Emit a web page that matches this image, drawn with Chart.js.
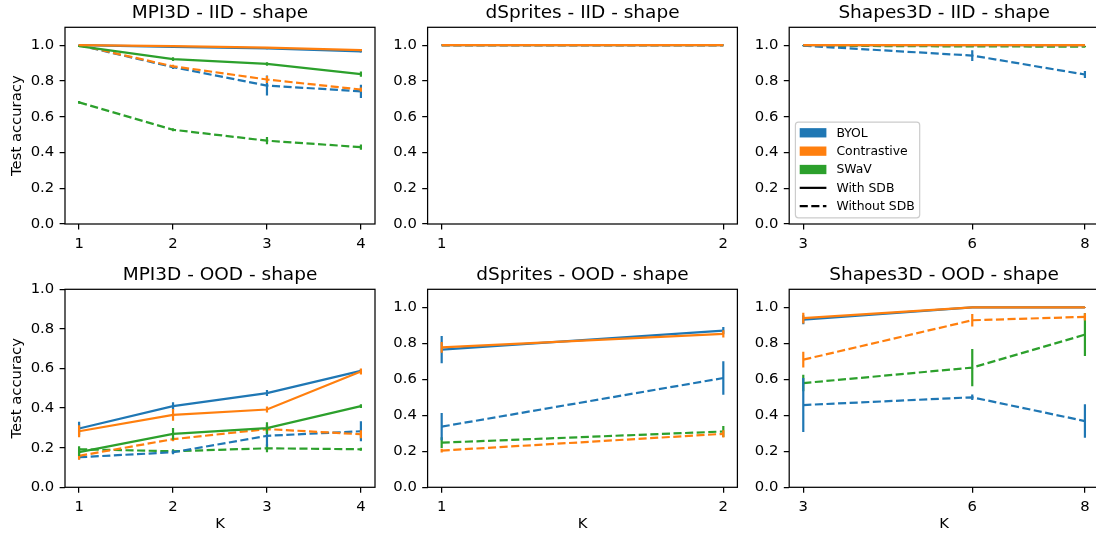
<!DOCTYPE html>
<html>
<head>
<meta charset="utf-8">
<script src="https://cdn.jsdelivr.net/npm/chart.js@4.4.0/dist/chart.umd.min.js"></script>
<style>
  html, body { margin: 0; padding: 0; background: #fff; overflow: hidden; }
  body { width: 1096px; height: 538px; position: relative; }
  canvas { position: absolute; }
</style>
</head>
<body>
<canvas id="c0"></canvas>
<canvas id="c1"></canvas>
<canvas id="c2"></canvas>
<canvas id="c3"></canvas>
<canvas id="c4"></canvas>
<canvas id="c5"></canvas>
<script>
const methods = ['BYOL', 'Contrastive', 'SWaV'];
const colors = ['#1f77b4', '#ff7f0e', '#2ca02c'];

const kMpi = [1, 2, 3, 4];
const kDsprites = [1, 2];
const kShapes = [3, 6, 8];
const yTicks = [0, 0.2, 0.4, 0.6, 0.8, 1.0];

// rows: BYOL, Contrastive, SWaV (null = not run)
const mpiIidWith = [[1.0, 0.99, 0.982, 0.965], [1.0, 0.995, 0.986, 0.972], [0.995, 0.922, 0.895, 0.838]];
const mpiIidWithErr = [[0.003, 0.004, 0.005, 0.006], [0.002, 0.003, 0.004, 0.006], [0.005, 0.01, 0.01, 0.015]];
const mpiIidWithout = [[1.0, 0.877, 0.774, 0.742], [1.0, 0.882, 0.808, 0.752], [0.68, 0.527, 0.466, 0.43]];
const mpiIidWithoutErr = [[0.003, 0.01, 0.056, 0.037], [0.003, 0.008, 0.02, 0.012], [0.008, 0.008, 0.02, 0.015]];

const dspIidWith = [[1.0, 1.0], [1.0, 1.0], null];
const dspIidWithErr = [[0, 0], [0, 0], null];
const dspIidWithout = [[1.0, 1.0], [1.0, 1.0], [1.0, 1.0]];
const dspIidWithoutErr = [[0, 0], [0, 0], [0, 0]];

const shpIidWith = [[1.0, 1.0, 1.0], [1.0, 1.0, 1.0], null];
const shpIidWithErr = [[0, 0, 0], [0, 0, 0], null];
const shpIidWithout = [[0.997, 0.942, 0.836], [1.0, 1.0, 0.999], [0.997, 0.993, 0.992]];
const shpIidWithoutErr = [[0.003, 0.03, 0.02], [0, 0, 0.001], [0.002, 0.003, 0.003]];

const mpiOodWith = [[0.297, 0.41, 0.476, 0.588], [0.283, 0.366, 0.393, 0.585], [0.178, 0.27, 0.299, 0.41]];
const mpiOodWithErr = [[0.034, 0.02, 0.015, 0.01], [0.03, 0.03, 0.015, 0.015], [0.02, 0.03, 0.03, 0.01]];
const mpiOodWithout = [[0.152, 0.177, 0.26, 0.283], [0.159, 0.243, 0.294, 0.268], [0.192, 0.182, 0.197, 0.192]];
const mpiOodWithoutErr = [[0.01, 0.01, 0.055, 0.05], [0.02, 0.01, 0.015, 0.02], [0.015, 0.01, 0.02, 0.008]];

const dspOodWith = [[0.765, 0.87], [0.777, 0.852], null];
const dspOodWithErr = [[0.076, 0.02], [0.03, 0.02], null];
const dspOodWithout = [[0.337, 0.607], [0.204, 0.297], [0.248, 0.31]];
const dspOodWithoutErr = [[0.076, 0.093], [0.01, 0.02], [0.03, 0.03]];

const shpOodWith = [[0.931, 1.0, 1.0], [0.94, 1.0, 1.0], null];
const shpOodWithErr = [[0.025, 0.002, 0.002], [0.03, 0.002, 0.002], null];
const shpOodWithout = [[0.457, 0.5, 0.368], [0.709, 0.928, 0.947], [0.579, 0.665, 0.848]];
const shpOodWithoutErr = [[0.15, 0.015, 0.093], [0.044, 0.035, 0.02], [0.046, 0.104, 0.119]];

const FONT = 'DejaVu Sans';
const LW = 2.2;
const DASH = [8.1, 3.5];

const cols = [
  { cx: 0, cw: 380, areaL: 65, areaW: 310 },
  { cx: 365, cw: 380, areaL: 427.6, areaW: 309.8 },
  { cx: 727, cw: 373, areaL: 789.2, areaW: 309.8 },
];
const rows = [
  { cy: 0, ch: 262, areaT: 27.3, areaB: 224 },
  { cy: 262, ch: 276, areaT: 289.3, areaB: 487.3 },
];

// bottom -> top drawing order
const layers = [['without', 2], ['without', 0], ['without', 1], ['with', 0], ['with', 2], ['with', 1]];

const decor = {
  id: 'decor',
  afterDatasetDraw(chart, args) {
    const ds = chart.data.datasets[args.index];
    if (!ds.errors) return;
    const { ctx, chartArea: a } = chart;
    const xs = chart.scales.x, ys = chart.scales.y;
    ctx.save();
    ctx.beginPath();
    ctx.rect(a.left, a.top, a.right - a.left, a.bottom - a.top);
    ctx.clip();
    ctx.strokeStyle = ds.borderColor;
    ctx.lineWidth = LW;
    ctx.setLineDash([]);
    ds.data.forEach((p, j) => {
      const e = ds.errors[j];
      if (!e) return;
      const px = xs.getPixelForValue(p.x);
      ctx.beginPath();
      ctx.moveTo(px, ys.getPixelForValue(p.y - e));
      ctx.lineTo(px, ys.getPixelForValue(p.y + e));
      ctx.stroke();
    });
    ctx.restore();
  },
  afterDatasetsDraw(chart, args, opts) {
    const { ctx, chartArea: a } = chart;
    ctx.save();
    ctx.strokeStyle = '#000';
    ctx.lineWidth = 1.24;
    ctx.strokeRect(a.left, a.top, a.right - a.left, a.bottom - a.top);
    ctx.fillStyle = '#000';
    ctx.font = '18.5px "' + FONT + '"';
    ctx.textAlign = 'center';
    ctx.textBaseline = 'alphabetic';
    ctx.fillText(opts.title, (a.left + a.right) / 2, a.top - 9);
    ctx.restore();
  },
  afterDraw(chart, args, opts) {
    if (!opts.legend) return;
    const { ctx, chartArea: a } = chart;
    const bw = 124.3, bh = 95.6;
    const bx = a.left + 6.2, by = a.bottom - 6.2 - bh;
    ctx.save();
    ctx.beginPath();
    ctx.roundRect(bx, by, bw, bh, 3);
    ctx.fillStyle = 'rgba(255,255,255,0.8)';
    ctx.fill();
    ctx.strokeStyle = '#cccccc';
    ctx.lineWidth = 1.2;
    ctx.stroke();
    const items = methods.map((m, i) => ({ text: m, color: colors[i] }))
      .concat([{ text: 'With SDB', dash: [] }, { text: 'Without SDB', dash: DASH }]);
    ctx.font = '12.4px "' + FONT + '"';
    ctx.textBaseline = 'middle';
    ctx.textAlign = 'left';
    items.forEach((it, i) => {
      const cy = by + 10.6 + i * 18.35;
      if (it.color) {
        ctx.fillStyle = it.color;
        ctx.fillRect(bx + 4.3, cy - 4.65, 26.7, 9.3);
      } else {
        ctx.strokeStyle = '#000';
        ctx.lineWidth = LW;
        ctx.setLineDash(it.dash);
        ctx.beginPath();
        ctx.moveTo(bx + 4.3, cy);
        ctx.lineTo(bx + 31, cy);
        ctx.stroke();
        ctx.setLineDash([]);
      }
      ctx.fillStyle = '#000';
      ctx.fillText(it.text, bx + 41, cy + 0.5);
    });
    ctx.restore();
  }
};

const makePanel = (id, col, row, title, k, ymax, withVals, withErr, withoutVals, withoutErr, legend) => {
  const c = cols[col], r = rows[row];
  const canvas = document.getElementById(id);
  canvas.width = c.cw;
  canvas.height = r.ch;
  canvas.style.left = c.cx + 'px';
  canvas.style.top = r.cy + 'px';
  canvas.style.width = c.cw + 'px';
  canvas.style.height = r.ch + 'px';

  const datasets = [];
  layers.forEach(([kind, m], i) => {
    const vals = kind === 'with' ? withVals[m] : withoutVals[m];
    if (!vals) return;
    const errs = kind === 'with' ? withErr[m] : withoutErr[m];
    datasets.push({
      label: methods[m] + (kind === 'with' ? ' with SDB' : ' without SDB'),
      data: k.map((x, j) => ({ x: x, y: vals[j] })),
      errors: errs,
      borderColor: colors[m],
      backgroundColor: colors[m],
      borderWidth: LW,
      borderDash: kind === 'with' ? [] : DASH,
      pointRadius: 0,
      tension: 0,
      fill: false,
      order: layers.length - i,
    });
  });

  const kmin = k[0], kmax = k[k.length - 1];
  const pad = 0.05 * (kmax - kmin);
  const tickFont = { family: FONT, size: 14.8 };

  new Chart(canvas, {
    type: 'line',
    data: { datasets },
    options: {
      responsive: false,
      animation: false,
      devicePixelRatio: 1,
      layout: { padding: { left: 0, top: r.areaT - r.cy, right: c.cx + c.cw - (c.areaL + c.areaW), bottom: 0 } },
      plugins: {
        legend: { display: false },
        tooltip: { enabled: false },
        decor: { title: title, legend: legend },
      },
      scales: {
        x: {
          type: 'linear',
          min: kmin - pad,
          max: kmax + pad,
          afterBuildTicks: (s) => { s.ticks = k.map((v) => ({ value: v })); },
          afterFit: (s) => { s.height = r.cy + r.ch - r.areaB; },
          ticks: { font: tickFont, color: '#000', padding: 5.4, maxRotation: 0, autoSkip: false, callback: (v) => String(v) },
          grid: { drawOnChartArea: false, drawTicks: true, tickLength: 5.4, color: '#000', lineWidth: 1.24 },
          border: { display: false },
          title: { display: row === 1, text: 'K', font: tickFont, color: '#000', padding: { top: 0, bottom: 5.1 } },
        },
        y: {
          type: 'linear',
          min: 0,
          max: ymax,
          afterBuildTicks: (s) => { s.ticks = yTicks.map((v) => ({ value: v })); },
          afterFit: (s) => { s.width = c.areaL - c.cx; },
          ticks: { font: tickFont, color: '#000', padding: 5.4, callback: (v) => v.toFixed(1) },
          grid: { drawOnChartArea: false, drawTicks: true, tickLength: 5.4, color: '#000', lineWidth: 1.24 },
          border: { display: false },
          title: { display: col === 0, text: 'Test accuracy', font: tickFont, color: '#000', padding: { top: 7.8, bottom: 0 } },
        },
      },
    },
    plugins: [decor],
  });
};

makePanel('c0', 0, 0, 'MPI3D - IID - shape', kMpi, 1.1, mpiIidWith, mpiIidWithErr, mpiIidWithout, mpiIidWithoutErr, false);
makePanel('c1', 1, 0, 'dSprites - IID - shape', kDsprites, 1.1, dspIidWith, dspIidWithErr, dspIidWithout, dspIidWithoutErr, false);
makePanel('c2', 2, 0, 'Shapes3D - IID - shape', kShapes, 1.1, shpIidWith, shpIidWithErr, shpIidWithout, shpIidWithoutErr, true);
makePanel('c3', 0, 1, 'MPI3D - OOD - shape', kMpi, 1.0, mpiOodWith, mpiOodWithErr, mpiOodWithout, mpiOodWithoutErr, false);
makePanel('c4', 1, 1, 'dSprites - OOD - shape', kDsprites, 1.1, dspOodWith, dspOodWithErr, dspOodWithout, dspOodWithoutErr, false);
makePanel('c5', 2, 1, 'Shapes3D - OOD - shape', kShapes, 1.1, shpOodWith, shpOodWithErr, shpOodWithout, shpOodWithoutErr, false);
</script>
</body>
</html>
